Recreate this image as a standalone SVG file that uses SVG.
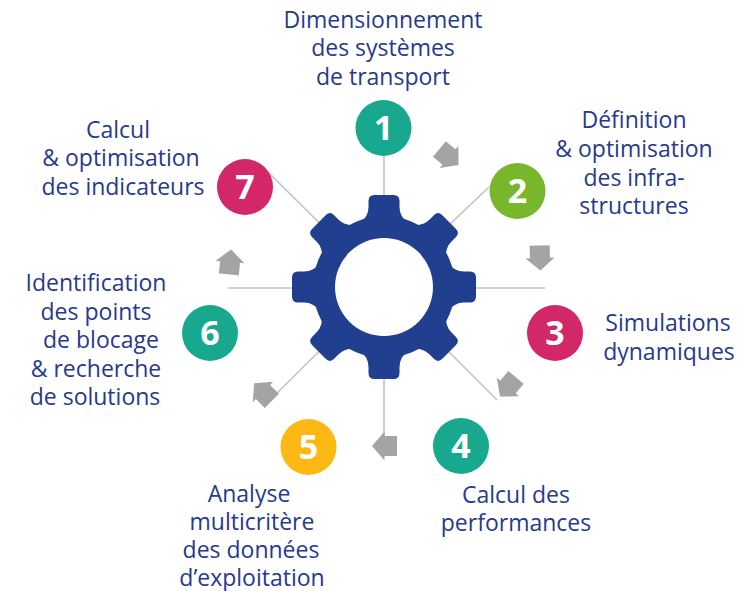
<svg xmlns="http://www.w3.org/2000/svg" width="747" height="591" viewBox="0 0 747 591">
<defs>
<style>
.lbl{font-family:"Open Sans","Noto Sans",sans-serif;font-size:23px;fill:#273a8c;text-anchor:middle}
.num{font-family:"Open Sans","Noto Sans",sans-serif;font-size:34px;font-weight:700;fill:#fff;text-anchor:middle}
.ln{stroke:#c3c3c3;stroke-width:1.6;fill:none}
.arr{fill:#a4a4a4}
</style>
<polygon id="ar" points="-12.5,-10 0,-10 0,-14.5 12.5,0 0,14.5 0,10 -12.5,10"/>
<path id="tooth" d="M-25,-63 Q-15.5,-70 -15.5,-80 L-15.5,-86 Q-15.5,-92 -9.5,-92 L9.5,-92 Q15.5,-92 15.5,-86 L15.5,-80 Q15.5,-70 25,-63 Z"/>
</defs>
<rect width="747" height="591" fill="#fff"/>
<g id="connectors">
<line class="ln" x1="384" y1="155" x2="384" y2="287"/>
<line class="ln" x1="384" y1="287" x2="489" y2="187"/>
<line class="ln" x1="384" y1="287" x2="268" y2="172"/>
<line class="ln" x1="228" y1="288" x2="545" y2="288"/>
<line class="ln" x1="384" y1="287" x2="497" y2="400"/>
<line class="ln" x1="384" y1="287" x2="272" y2="398"/>
<line class="ln" x1="384" y1="287" x2="384" y2="440"/>
<g class="arr">
<use href="#ar" transform="translate(449,157) rotate(40)"/>
<use href="#ar" transform="translate(540,258) rotate(88)"/>
<use href="#ar" transform="translate(508,387) rotate(130)"/>
<use href="#ar" transform="translate(384.5,446) rotate(180)"/>
<use href="#ar" transform="translate(263,392) rotate(225)"/>
<use href="#ar" transform="translate(230,262) rotate(275)"/>
</g>
</g>
<g id="gear" transform="translate(384,287)" fill="#213f8f">
<circle r="71"/>
<use href="#tooth"/>
<use href="#tooth" transform="rotate(45)"/>
<use href="#tooth" transform="rotate(90)"/>
<use href="#tooth" transform="rotate(135)"/>
<use href="#tooth" transform="rotate(180)"/>
<use href="#tooth" transform="rotate(225)"/>
<use href="#tooth" transform="rotate(270)"/>
<use href="#tooth" transform="rotate(315)"/>
<circle r="49" fill="#fff"/>
</g>
<g id="n1">
<circle cx="383.5" cy="128" r="28" fill="#17a88e"/>
<text class="num" x="383.5" y="140">1</text>
<text class="lbl" x="383" y="28">Dimensionnement</text>
<text class="lbl" x="383" y="56">des systèmes</text>
<text class="lbl" x="383" y="85">de transport</text>
</g>
<g id="n2">
<circle cx="517.5" cy="191" r="28" fill="#78b72b"/>
<text class="num" x="517.5" y="203">2</text>
<text class="lbl" x="634" y="128">Définition</text>
<text class="lbl" x="634" y="157">&amp; optimisation</text>
<text class="lbl" x="634" y="186">des infra-</text>
<text class="lbl" x="634" y="214">structures</text>
</g>
<g id="n3">
<circle cx="555" cy="333" r="28" fill="#d22769"/>
<text class="num" x="555" y="345">3</text>
<text class="lbl" x="668" y="331">Simulations</text>
<text class="lbl" x="669" y="360">dynamiques</text>
</g>
<g id="n4">
<circle cx="461" cy="446" r="28" fill="#17a88e"/>
<text class="num" x="461" y="458">4</text>
<text class="lbl" x="516" y="503">Calcul des</text>
<text class="lbl" x="516" y="531">performances</text>
</g>
<g id="n5">
<circle cx="308.5" cy="447" r="28" fill="#fcb813"/>
<text class="num" x="308.5" y="459">5</text>
<text class="lbl" x="249" y="502">Analyse</text>
<text class="lbl" x="252" y="530">multicritère</text>
<text class="lbl" x="251" y="558">des données</text>
<text class="lbl" x="252" y="586">d’exploitation</text>
</g>
<g id="n6">
<circle cx="210" cy="333" r="28" fill="#17a88e"/>
<text class="num" x="210" y="345">6</text>
<text class="lbl" x="96" y="291">Identification</text>
<text class="lbl" x="96" y="320">des points</text>
<text class="lbl" x="101" y="348">de blocage</text>
<text class="lbl" x="96" y="377">&amp; recherche</text>
<text class="lbl" x="95" y="405">de solutions</text>
</g>
<g id="n7">
<circle cx="245" cy="187" r="28" fill="#d22769"/>
<text class="num" x="245" y="199">7</text>
<text class="lbl" x="118" y="138">Calcul</text>
<text class="lbl" x="121" y="166">&amp; optimisation</text>
<text class="lbl" x="123" y="195">des indicateurs</text>
</g>
</svg>
